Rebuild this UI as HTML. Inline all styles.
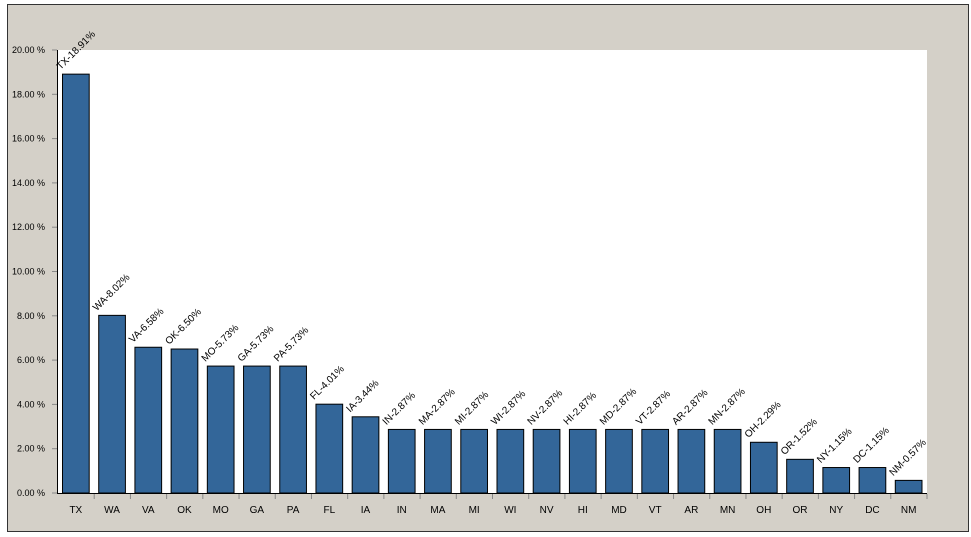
<!DOCTYPE html>
<html><head><style>body{margin:0;background:#fff}svg{display:block}</style></head><body>
<svg width="971" height="537" xmlns="http://www.w3.org/2000/svg" font-family="Liberation Sans, sans-serif">
<rect x="7.5" y="4.5" width="961" height="527" fill="#d4d0c8" stroke="#333" stroke-width="1"/>
<rect x="58" y="50" width="869" height="443" fill="#fff"/>
<line x1="57.5" y1="50" x2="57.5" y2="493" stroke="#000"/>
<line x1="57" y1="493.5" x2="927" y2="493.5" stroke="#000"/>
<g stroke="#888">
<line x1="52" x2="57" y1="493" y2="493"/><line x1="52" x2="57" y1="448.7" y2="448.7"/><line x1="52" x2="57" y1="404.4" y2="404.4"/><line x1="52" x2="57" y1="360.1" y2="360.1"/><line x1="52" x2="57" y1="315.8" y2="315.8"/><line x1="52" x2="57" y1="271.5" y2="271.5"/><line x1="52" x2="57" y1="227.2" y2="227.2"/><line x1="52" x2="57" y1="182.9" y2="182.9"/><line x1="52" x2="57" y1="138.6" y2="138.6"/><line x1="52" x2="57" y1="94.3" y2="94.3"/><line x1="52" x2="57" y1="50" y2="50"/>
</g>
<g font-size="9" text-anchor="end">
<text x="45" y="496">0.00 %</text><text x="45" y="451.7">2.00 %</text><text x="45" y="407.4">4.00 %</text><text x="45" y="363.1">6.00 %</text><text x="45" y="318.8">8.00 %</text><text x="45" y="274.5">10.00 %</text><text x="45" y="230.2">12.00 %</text><text x="45" y="185.9">14.00 %</text><text x="45" y="141.6">16.00 %</text><text x="45" y="97.3">18.00 %</text><text x="45" y="53">20.00 %</text>
</g>
<g fill="#336699" stroke="#000" stroke-width="1">
<rect x="62.5" y="74.14" width="26.7" height="418.86"/>
<rect x="98.71" y="315.36" width="26.7" height="177.64"/>
<rect x="134.92" y="347.25" width="26.7" height="145.75"/>
<rect x="171.13" y="349.02" width="26.7" height="143.98"/>
<rect x="207.33" y="366.08" width="26.7" height="126.92"/>
<rect x="243.54" y="366.08" width="26.7" height="126.92"/>
<rect x="279.75" y="366.08" width="26.7" height="126.92"/>
<rect x="315.96" y="404.18" width="26.7" height="88.82"/>
<rect x="352.17" y="416.8" width="26.7" height="76.2"/>
<rect x="388.38" y="429.43" width="26.7" height="63.57"/>
<rect x="424.58" y="429.43" width="26.7" height="63.57"/>
<rect x="460.79" y="429.43" width="26.7" height="63.57"/>
<rect x="497" y="429.43" width="26.7" height="63.57"/>
<rect x="533.21" y="429.43" width="26.7" height="63.57"/>
<rect x="569.42" y="429.43" width="26.7" height="63.57"/>
<rect x="605.63" y="429.43" width="26.7" height="63.57"/>
<rect x="641.83" y="429.43" width="26.7" height="63.57"/>
<rect x="678.04" y="429.43" width="26.7" height="63.57"/>
<rect x="714.25" y="429.43" width="26.7" height="63.57"/>
<rect x="750.46" y="442.28" width="26.7" height="50.72"/>
<rect x="786.67" y="459.33" width="26.7" height="33.67"/>
<rect x="822.88" y="467.53" width="26.7" height="25.47"/>
<rect x="859.08" y="467.53" width="26.7" height="25.47"/>
<rect x="895.29" y="480.37" width="26.7" height="12.63"/>
</g>
<g stroke="#888">
<line x1="94.21" x2="94.21" y1="494" y2="499"/><line x1="130.42" x2="130.42" y1="494" y2="499"/><line x1="166.63" x2="166.63" y1="494" y2="499"/><line x1="202.83" x2="202.83" y1="494" y2="499"/><line x1="239.04" x2="239.04" y1="494" y2="499"/><line x1="275.25" x2="275.25" y1="494" y2="499"/><line x1="311.46" x2="311.46" y1="494" y2="499"/><line x1="347.67" x2="347.67" y1="494" y2="499"/><line x1="383.88" x2="383.88" y1="494" y2="499"/><line x1="420.08" x2="420.08" y1="494" y2="499"/><line x1="456.29" x2="456.29" y1="494" y2="499"/><line x1="492.5" x2="492.5" y1="494" y2="499"/><line x1="528.71" x2="528.71" y1="494" y2="499"/><line x1="564.92" x2="564.92" y1="494" y2="499"/><line x1="601.13" x2="601.13" y1="494" y2="499"/><line x1="637.33" x2="637.33" y1="494" y2="499"/><line x1="673.54" x2="673.54" y1="494" y2="499"/><line x1="709.75" x2="709.75" y1="494" y2="499"/><line x1="745.96" x2="745.96" y1="494" y2="499"/><line x1="782.17" x2="782.17" y1="494" y2="499"/><line x1="818.38" x2="818.38" y1="494" y2="499"/><line x1="854.58" x2="854.58" y1="494" y2="499"/><line x1="890.79" x2="890.79" y1="494" y2="499"/><line x1="927" x2="927" y1="494" y2="499"/>
</g>
<g font-size="10" text-anchor="middle">
<text x="75.85" y="513">TX</text><text x="112.06" y="513">WA</text><text x="148.27" y="513">VA</text><text x="184.48" y="513">OK</text><text x="220.68" y="513">MO</text><text x="256.89" y="513">GA</text><text x="293.1" y="513">PA</text><text x="329.31" y="513">FL</text><text x="365.52" y="513">IA</text><text x="401.73" y="513">IN</text><text x="437.93" y="513">MA</text><text x="474.14" y="513">MI</text><text x="510.35" y="513">WI</text><text x="546.56" y="513">NV</text><text x="582.77" y="513">HI</text><text x="618.98" y="513">MD</text><text x="655.18" y="513">VT</text><text x="691.39" y="513">AR</text><text x="727.6" y="513">MN</text><text x="763.81" y="513">OH</text><text x="800.02" y="513">OR</text><text x="836.23" y="513">NY</text><text x="872.43" y="513">DC</text><text x="908.64" y="513">NM</text>
</g>
<g font-size="10">
<text transform="translate(60.5,70.14) rotate(-45)">TX-18.91%</text>
<text transform="translate(96.71,311.36) rotate(-45)">WA-8.02%</text>
<text transform="translate(132.92,343.25) rotate(-45)">VA-6.58%</text>
<text transform="translate(169.13,345.02) rotate(-45)">OK-6.50%</text>
<text transform="translate(205.33,362.08) rotate(-45)">MO-5.73%</text>
<text transform="translate(241.54,362.08) rotate(-45)">GA-5.73%</text>
<text transform="translate(277.75,362.08) rotate(-45)">PA-5.73%</text>
<text transform="translate(313.96,400.18) rotate(-45)">FL-4.01%</text>
<text transform="translate(350.17,412.8) rotate(-45)">IA-3.44%</text>
<text transform="translate(386.38,425.43) rotate(-45)">IN-2.87%</text>
<text transform="translate(422.58,425.43) rotate(-45)">MA-2.87%</text>
<text transform="translate(458.79,425.43) rotate(-45)">MI-2.87%</text>
<text transform="translate(495,425.43) rotate(-45)">WI-2.87%</text>
<text transform="translate(531.21,425.43) rotate(-45)">NV-2.87%</text>
<text transform="translate(567.42,425.43) rotate(-45)">HI-2.87%</text>
<text transform="translate(603.63,425.43) rotate(-45)">MD-2.87%</text>
<text transform="translate(639.83,425.43) rotate(-45)">VT-2.87%</text>
<text transform="translate(676.04,425.43) rotate(-45)">AR-2.87%</text>
<text transform="translate(712.25,425.43) rotate(-45)">MN-2.87%</text>
<text transform="translate(748.46,438.28) rotate(-45)">OH-2.29%</text>
<text transform="translate(784.67,455.33) rotate(-45)">OR-1.52%</text>
<text transform="translate(820.88,463.53) rotate(-45)">NY-1.15%</text>
<text transform="translate(857.08,463.53) rotate(-45)">DC-1.15%</text>
<text transform="translate(893.29,476.37) rotate(-45)">NM-0.57%</text>
</g>
</svg>
</body></html>
